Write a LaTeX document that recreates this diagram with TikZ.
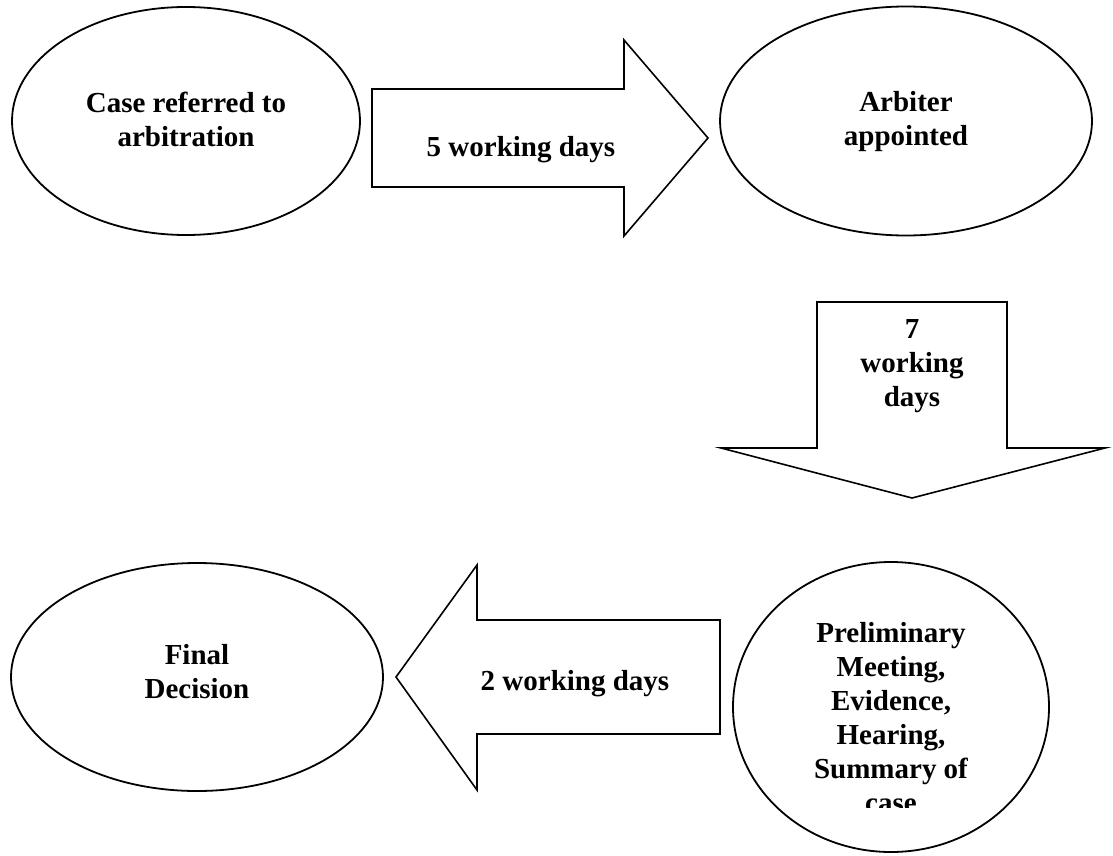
\documentclass[tikz,border=0pt]{standalone}
\usepackage{fontspec}
\setmainfont{Liberation Serif}
\usetikzlibrary{shapes.geometric}
\begin{document}
\begin{tikzpicture}[x=1pt,y=-1pt,
  oval/.style={draw, line width=1.8pt, ellipse, inner sep=0pt},
  blockarrow/.style={draw, line width=1.6pt, line join=miter, fill=white},
  lbl/.style={font=\bfseries\fontsize{29}{34}\selectfont, align=center, inner sep=0pt}]
\useasboundingbox[fill=white] (0,0) rectangle (1113,856);
% ellipses
\node[oval, minimum width=348pt, minimum height=228pt] (case) at (186,121) {};
\node[lbl] (caseT) at (186,119) {Case referred to\\arbitration};
\node[oval, minimum width=372pt, minimum height=229pt] (arb) at (906,121) {};
\node[lbl] (arbT) at (906,122) {Arbiter\\appointed};
\node[oval, minimum width=316pt, minimum height=290pt] (prelim) at (891,707) {};
\begin{scope}
  \clip (700,600) rectangle (1100,807);
  \node[lbl, anchor=north] (prelimT) at (891,622) {Preliminary\\Meeting,\\Evidence,\\Hearing,\\Summary of\\case};
\end{scope}
\node[oval, minimum width=372pt, minimum height=228pt] (final) at (197,677) {};
\node[lbl] (finalT) at (197,672) {Final\\Decision};
% block arrows
\draw[blockarrow] (372,89) -- (624,89) -- (624,40) -- (708,138) -- (624,236) -- (624,187) -- (372,187) -- cycle;
\node[lbl, anchor=base] (d5) at (521,157) {5 working days};
\draw[blockarrow] (817,302) -- (1007,302) -- (1007,448) -- (1105,448) -- (912,498) -- (721,448) -- (817,448) -- cycle;
\node[lbl] (d7) at (912,366) {7\\working\\days};
\draw[blockarrow] (720,620) -- (477,620) -- (477,565) -- (396,677) -- (477,790) -- (477,734) -- (720,734) -- cycle;
\node[lbl, anchor=base] (d2) at (575,690) {2 working days};
\end{tikzpicture}
\end{document}
